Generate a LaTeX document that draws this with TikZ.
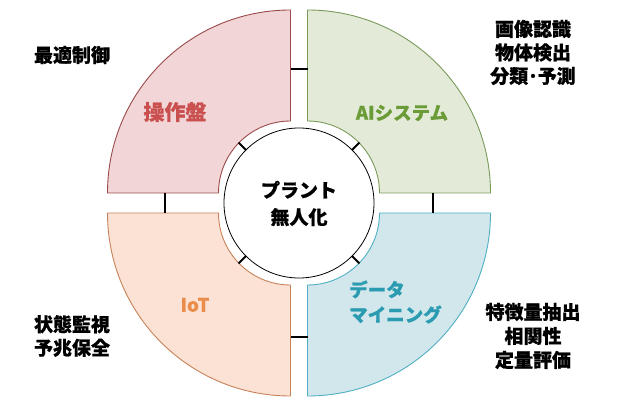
\documentclass[tikz,border=0pt]{standalone}
\usepackage{fontspec}
\usetikzlibrary{calc}
\setmainfont{Noto Sans CJK JP}[BoldFeatures={FakeBold=0.6}]
\definecolor{tlfill}{HTML}{F2D6D7}
\definecolor{tldraw}{HTML}{9B4A4A}
\definecolor{tltext}{HTML}{C9504F}
\definecolor{trfill}{HTML}{E3EBD8}
\definecolor{trdraw}{HTML}{7A9A5A}
\definecolor{trtext}{HTML}{6B9B37}
\definecolor{blfill}{HTML}{FBE2D5}
\definecolor{bldraw}{HTML}{C8825A}
\definecolor{bltext}{HTML}{EB8D4A}
\definecolor{brfill}{HTML}{D2E7EC}
\definecolor{brdraw}{HTML}{4FAFC3}
\definecolor{brtext}{HTML}{2A9BB0}
\begin{document}
\begin{tikzpicture}[x=1pt,y=1pt,
  quad/.style={line width=0.9pt},
  tick/.style={line width=2pt,black},
  lbl/.style={font=\bfseries\fontsize{18.5}{24}\selectfont,align=center,inner sep=0pt},
  side/.style={font=\bfseries\fontsize{19}{23.5}\selectfont,align=center,inner sep=0pt,text=black}]
\useasboundingbox (0,0) rectangle (618,396);
\coordinate (O) at (299,193);
\def\ri{72}\def\ro{183}
% quadrant corners
\coordinate (TL) at ($(O)+(-8.5,10)$);
\coordinate (TR) at ($(O)+(8.5,10)$);
\coordinate (BL) at ($(O)+(-8.5,-10)$);
\coordinate (BR) at ($(O)+(8.5,-10)$);
% top-left
\draw[quad,fill=tlfill,draw=tldraw] ($(TL)+(-\ri,0)$) -- ($(TL)+(-\ro,0)$)
  arc[start angle=180,end angle=90,radius=\ro] -- ($(TL)+(0,\ri)$)
  arc[start angle=90,end angle=180,radius=\ri] -- cycle;
% top-right
\draw[quad,fill=trfill,draw=trdraw] ($(TR)+(\ri,0)$) -- ($(TR)+(\ro,0)$)
  arc[start angle=0,end angle=90,radius=\ro] -- ($(TR)+(0,\ri)$)
  arc[start angle=90,end angle=0,radius=\ri] -- cycle;
% bottom-left
\draw[quad,fill=blfill,draw=bldraw] ($(BL)+(-\ri,0)$) -- ($(BL)+(-\ro,0)$)
  arc[start angle=180,end angle=270,radius=\ro] -- ($(BL)+(0,-\ri)$)
  arc[start angle=270,end angle=180,radius=\ri] -- cycle;
% bottom-right
\draw[quad,fill=brfill,draw=brdraw] ($(BR)+(\ri,0)$) -- ($(BR)+(\ro,0)$)
  arc[start angle=0,end angle=-90,radius=\ro] -- ($(BR)+(0,-\ri)$)
  arc[start angle=-90,end angle=0,radius=\ri] -- cycle;
% center circle
\node[circle,draw=black,line width=0.8pt,fill=white,minimum size=150pt,inner sep=0pt] (C) at (O) {};
\node[lbl,text=black,font=\bfseries\fontsize{19}{27}\selectfont] (Ct) at (299,192.5) {プラント\\無人化};
% diagonal ticks
\foreach \a in {45,135,225,315}{
  \draw[tick] ($(O)+(\a:75)$) -- ($(O)+(\a:85.5)$);
}
% axis ticks
\coordinate (tA1) at ($(TL)+(0,134-10)$); \coordinate (tA2) at ($(TR)+(0,134-10)$);
\draw[tick] (tA1) -- (tA2);
\coordinate (lA1) at ($(TL)+(-134+8.5,0)$); \coordinate (lA2) at ($(BL)+(-134+8.5,0)$);
\draw[tick] (lA1) -- (lA2);
\coordinate (rA1) at ($(TR)+(134-8.5,0)$); \coordinate (rA2) at ($(BR)+(134-8.5,0)$);
\draw[tick] (rA1) -- (rA2);
\coordinate (bA1) at ($(BL)+(0,-134+10)$); \coordinate (bA2) at ($(BR)+(0,-134+10)$);
\draw[tick] (bA1) -- (bA2);
% quadrant labels
\node[lbl,text=tltext,font=\bfseries\fontsize{21}{24}\selectfont] (q1) at (175,284) {操作盤};
\node[lbl,text=trtext] (q2) at (402,283) {AIシステム};
\node[lbl,text=bltext] (q3) at (195,91) {IoT};
\node[lbl,text=brtext,align=left,anchor=west,font=\bfseries\fontsize{18.5}{25}\selectfont] (q4) at (349,94) {データ\\マイニング};
% side texts
\node[side] (s1) at (72,341) {最適制御};
\node[side] (s2) at (533,343.5) {画像認識\\物体検出\\分類･予測};
\node[side] (s3) at (72,60) {状態監視\\予兆保全};
\node[side,font=\bfseries\fontsize{19}{24}\selectfont] (s4) at (533,60) {特徴量抽出\\相関性\\定量評価};
\end{tikzpicture}
\end{document}
